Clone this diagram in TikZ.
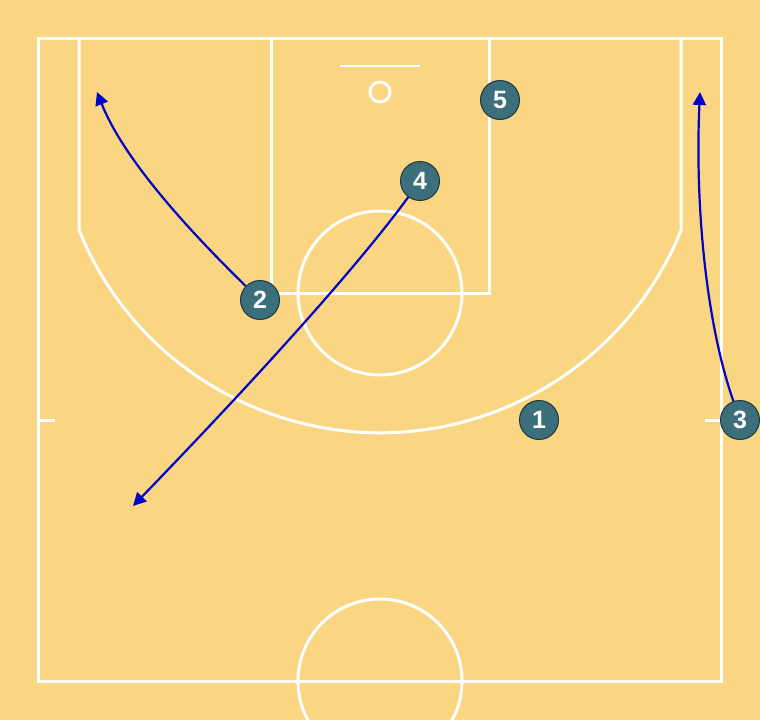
\documentclass[tikz,border=0pt]{standalone}
\usepackage{fontspec}
\setmainfont{Liberation Sans}
\usetikzlibrary{arrows.meta}
\definecolor{bg}{RGB}{250,214,130}
\definecolor{pfill}{RGB}{60,110,124}
\definecolor{pline}{RGB}{30,55,62}
\definecolor{arr}{RGB}{0,0,200}
\tikzset{
  court/.style={draw=white, line width=3pt},
  player/.style={circle, fill=pfill, draw=pline, line width=1pt, minimum size=39pt, inner sep=0pt, text=white, font=\fontsize{25}{25}\selectfont\bfseries},
  move/.style={draw=arr, line width=2.2pt, -{Triangle[length=13pt,width=13pt]}}
}
\begin{document}
\begin{tikzpicture}[x=1pt,y=-1pt]
\fill[bg] (0,0) rectangle (760,720);
\useasboundingbox (0,0) rectangle (760,720);
% outer court
\draw[court] (38,38) rectangle (721,681);
% lane
\draw[court] (271,38) -- (271,293) -- (489,293) -- (489,38);
% free throw circle
\draw[court] (380,293) circle[radius=82];
% half court circle
\draw[court] (380,681) circle[radius=82];
% three point line
\draw[court] (79,38) -- (79,230) arc[start angle=202.1, end angle=337.9, x radius=325, y radius=-325] -- (681,38);
% backboard and rim
\draw[white, line width=2pt] (340,66) -- (420,66);
\draw[court] (380,92) circle[radius=10];
% side ticks
\draw[court] (38,420) -- (55,420);
\draw[court] (705,420) -- (721,420);
% players
\node[player] (p1) at (539,420) {1};
\node[player] (p2) at (260,300) {2};
\node[player] (p3) at (740,420) {3};
\node[player] (p4) at (420,181) {4};
\node[player] (p5) at (500,100) {5};
% targets
\coordinate (t2) at (97,92);
\coordinate (t4) at (133,506);
\coordinate (t3) at (700,92);
% movements
\draw[move] (p2) .. controls (170,212) and (120,150) .. (t2);
\draw[move] (p4) .. controls (355,270) and (250,385) .. (t4);
\draw[move] (p3) .. controls (705,320) and (695,200) .. (t3);
\end{tikzpicture}
\end{document}
